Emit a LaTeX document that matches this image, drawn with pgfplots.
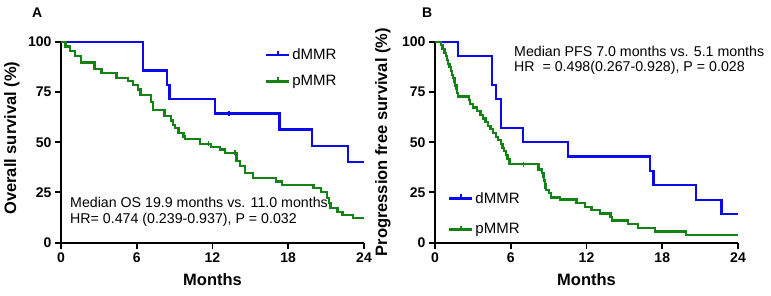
\documentclass[border=0pt]{standalone}
\usepackage{fontspec}
\setmainfont{Liberation Sans}
\usepackage{pgfplots}
\pgfplotsset{compat=1.18}
\definecolor{kmblue}{RGB}{10,10,235}
\definecolor{kmgreen}{RGB}{20,130,20}
\pgfplotsset{kmaxis/.style={
  scale only axis, width=303pt, height=201pt,
  xmin=0,xmax=24,ymin=0,ymax=100,
  axis x line*=bottom, axis y line*=left,
  axis line style={line width=1.9pt},
  xtick={0,6,12,18,24}, ytick={0,25,50,75,100},
  tick align=outside, major tick length=6pt,
  tick style={line width=1.9pt, black},
  tick label style={font=\fontsize{14}{14}\selectfont\bfseries},
  /pgf/number format/assume math mode=true,
  clip=false,
  xlabel={Months},
  label style={font=\fontsize{16.5}{16.5}\selectfont\bfseries},
  xlabel style={at={(axis description cs:0.5,-0.186)},anchor=center},
  legend style={draw=none,fill=none,font=\fontsize{15}{15}\selectfont, inner sep=0pt},
  legend cell align=left,
},
kmleg/.style={legend image code/.code={\draw[##1] (0pt,0pt) -- (23pt,0pt); \draw[##1] (11.5pt,0pt) -- (11.5pt,4pt);}},
kmline/.style={line width=2.2pt, const plot, kmleg}
}
\begin{document}
\begin{tikzpicture}
\useasboundingbox (0,0) rectangle (771pt,296pt);
% Panel A
\begin{axis}[kmaxis, at={(61pt,53.3pt)}, anchor=south west,
  ylabel={Overall survival (\%)},
  ylabel style={at={(axis description cs:-0.162,0.52)},anchor=center},
  legend style={at={(axis description cs:0.673,0.974)},anchor=north west, row sep=10pt}]
\addplot[kmblue, kmline]
  coordinates {(0,100)(6.5,85.7)(8.4,78.6)(8.6,71.4)(12.2,64.3)(17.3,56.3)(19.9,48.2)(22.75,40.2)(24,40.2)};
\addlegendentry{dMMR}
\addplot[kmgreen, kmline]
  coordinates {(0,100)(0.35,97.6)(0.7,95.2)(1.1,92.9)(1.6,89.6)(2.65,86.5)(3.2,84.6)(4.4,82.1)(5.3,80.4)(5.7,78.6)(6.1,76.2)(6.3,73.4)(7.1,69.8)(7.3,66.2)(8.2,63.0)(8.7,60.8)(8.9,58.6)(9.0,56.9)(9.3,54.4)(9.7,52.8)(9.85,51.4)(11.0,49.2)(11.9,47.8)(12.6,46.4)(13.0,44.8)(13.9,40.5)(14.2,38.2)(14.6,34.8)(15.2,32.2)(17.0,30.4)(17.5,28.7)(20.0,27.1)(20.6,25.4)(21.1,22.1)(21.2,19.6)(21.35,17.1)(21.9,15.4)(22.3,13.8)(23.1,12.2)(24,12.2)};
\addlegendentry{pMMR}
\addplot[kmblue, only marks, mark=|, mark size=2.5pt, mark options={line width=1.5pt}, forget plot] coordinates {(13.3,64.3)};
\addplot[kmgreen, only marks, mark=|, mark size=2.5pt, mark options={line width=1.5pt}, forget plot] coordinates {(11.7,49.2)(13.8,44.8)};
\end{axis}
% Panel B
\begin{axis}[kmaxis, at={(435pt,53.3pt)}, anchor=south west,
  ylabel={Progression free survival (\%)},
  ylabel style={at={(axis description cs:-0.172,0.50)},anchor=center},
  legend style={at={(axis description cs:0.043,0.262)},anchor=north west, row sep=15pt}]
\addplot[kmblue, kmline]
  coordinates {(0,100)(1.85,92.9)(4.5,78.6)(4.8,71.4)(5.2,57.1)(7.0,50.0)(10.55,42.9)(17.0,35.7)(17.3,28.6)(20.7,21.4)(22.7,14.3)(24,14.3)};
\addlegendentry{dMMR}
\addplot[kmgreen, kmline]
  coordinates {(0,100)(0.5,98.2)(0.6,96.4)(0.75,94.5)(0.85,92.7)(0.95,90.9)(1.05,89.1)(1.15,87.3)(1.25,85.5)(1.35,83.6)(1.45,81.8)(1.55,80.0)(1.6,78.2)(1.7,76.4)(1.75,74.5)(1.85,72.7)(2.7,70.9)(2.8,69.1)(3.0,67.3)(3.3,65.5)(3.6,63.6)(3.8,61.8)(4.0,60.0)(4.2,58.2)(4.4,56.4)(4.6,54.5)(4.8,52.7)(5.0,50.9)(5.2,49.1)(5.35,47.3)(5.45,45.5)(5.6,43.6)(5.75,41.8)(5.9,39.0)(8.2,36.4)(8.45,34.5)(8.6,32.7)(8.65,30.9)(8.7,29.1)(8.75,27.3)(8.8,26.4)(9.0,24.7)(9.2,22.5)(9.9,21.5)(11.2,19.8)(11.9,17.9)(12.4,16.2)(13.1,14.5)(13.9,12.6)(14.0,11.0)(15.3,9.2)(16.1,7.4)(17.4,5.6)(19.9,3.8)(24,3.8)};
\addlegendentry{pMMR}
\addplot[kmgreen, only marks, mark=|, mark size=2.5pt, mark options={line width=1.5pt}, forget plot] coordinates {(7.0,39.0)};
\end{axis}
\node[anchor=base west, inner sep=0pt, font=\fontsize{14.2}{14}\selectfont] at (70pt,88pt) {Median OS 19.9 months vs. 11.0 months};
\node[anchor=base west, inner sep=0pt, font=\fontsize{14.2}{14}\selectfont] at (70pt,72pt) {HR= 0.474 (0.239-0.937), P = 0.032};
\node[anchor=base west, inner sep=0pt, font=\fontsize{14.2}{14}\selectfont] at (514pt,239pt) {Median PFS 7.0 months vs. 5.1 months};
\node[anchor=base west, inner sep=0pt, font=\fontsize{14.2}{14}\selectfont] at (514pt,224pt) {HR\ \ = 0.498(0.267-0.928), P = 0.028};
\node[anchor=base west, inner sep=0pt, font=\fontsize{14}{14}\selectfont\bfseries] at (32pt,278pt) {A};
\node[anchor=base west, inner sep=0pt, font=\fontsize{14}{14}\selectfont\bfseries] at (422pt,278pt) {B};
\end{tikzpicture}
\end{document}
